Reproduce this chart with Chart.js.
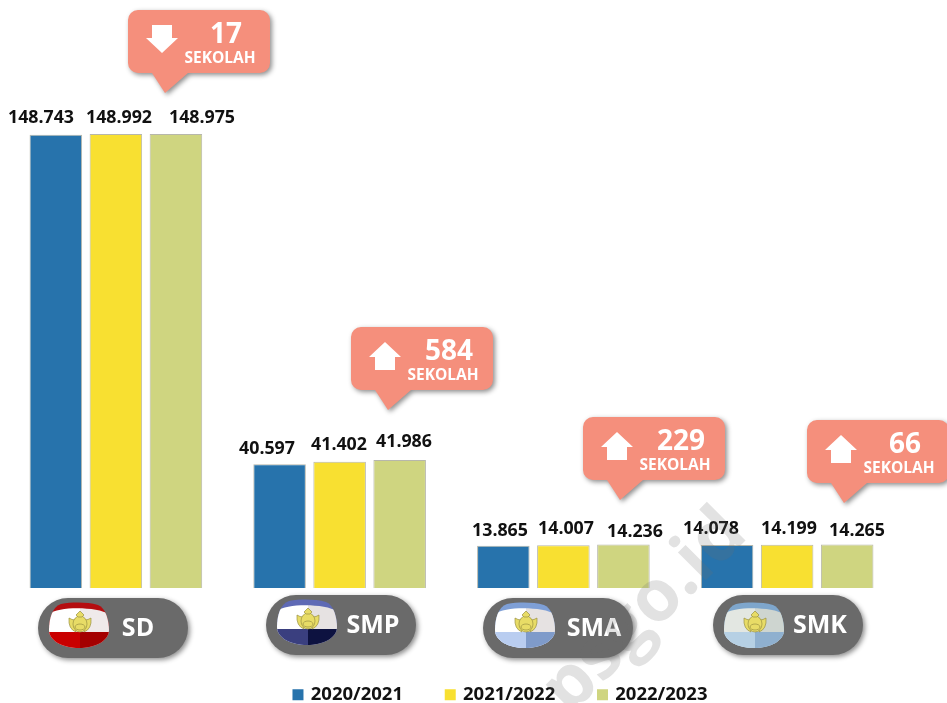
<!DOCTYPE html>
<html><head><meta charset="utf-8">
<style>html,body{margin:0;padding:0;background:#fff}#w{position:relative;width:947px;height:703px}</style>
<script src="https://cdn.jsdelivr.net/npm/chart.js@4"></script></head>
<body><div id="w"><canvas id="c" width="947" height="703"></canvas></div>
<script>
const categories = ['SD','SMP','SMA','SMK'];
const seriesNames = ['2020/2021','2021/2022','2022/2023'];
const values2020 = [148743,40597,13865,14078];
const values2021 = [148992,41402,14007,14199];
const values2022 = [148975,41986,14236,14265];
const changes = [17,584,229,66];
const changeDirections = ['down','up','up','up'];
const changeUnit = 'SEKOLAH';
const watermarkText = 'psgo.id';

const FONT = '"Open Sans", sans-serif';
const seriesColors = ['#2773ac','#f8e031','#cfd580'];

// Hand-placed annotation layout of the original graphic (pixels)
const labelPlacement = [
  [[41,118],[119,118],[202,118]],
  [[267,449],[339,445],[404,442]],
  [[500,531],[566,529],[635,532]],
  [[711,529],[789,529],[857,531]]
];
const calloutBoxes = [[128,10],[351,327],[583,417],[807,420]];
const pillBoxes = [[38,598],[266,595],[483,598],[713,595]];
const pillTextX = [100,107,111,107];
const badgeStyles = [
  {x:49,y:603,top:'#b50d10',body:['#ffffff','#efeaea'],l:'#c90000',r:'#a40000'},
  {x:277,y:600,top:'#5f6ab5',body:['#ffffff','#e6e2e2'],l:'#3a3f7f',r:'#0d1240'},
  {x:495,y:603,top:'#7e9fd6',body:['#ffffff','#e6e2e2'],l:'#b9cdf0',r:'#7f9bca'},
  {x:724,y:603,top:'#7ea6cc',body:['#e3e7e2','#ced5d0'],l:'#b6d0e4',r:'#8fb0cf'}
];

function fmt(v){return String(v).replace(/\B(?=(\d{3})+$)/g,'.');}
function shadow(ctx,on){
  ctx.shadowColor=on?'rgba(0,0,0,.45)':'transparent';
  ctx.shadowBlur=on?5:0;ctx.shadowOffsetX=on?2:0;ctx.shadowOffsetY=on?2:0;
}
function drawPill(ctx,x,y){
  ctx.save();shadow(ctx,true);ctx.fillStyle='#6a6a6a';
  ctx.beginPath();ctx.roundRect(x,y,150,60,30);ctx.fill();ctx.restore();
}
function badgePath(ctx,x,y){
  const h=45;
  ctx.beginPath();
  ctx.moveTo(x+12,y+1);
  ctx.bezierCurveTo(x+24,y-1,x+38,y-1,x+49,y+2);
  ctx.bezierCurveTo(x+57,y+5,x+60,y+18,x+60,y+27);
  ctx.bezierCurveTo(x+60,y+38,x+46,y+h,x+30,y+h);
  ctx.bezierCurveTo(x+14,y+h,x,y+38,x,y+27);
  ctx.bezierCurveTo(x,y+16,x+3,y+4,x+12,y+1);
  ctx.closePath();
}
function drawCrown(ctx,cx,cy){
  ctx.save();ctx.fillStyle='#e8dc66';ctx.strokeStyle='#9a9040';ctx.lineWidth=.7;
  [-1,1].forEach(sx=>{
    ctx.beginPath();
    ctx.moveTo(cx+sx*4,cy+10);
    ctx.quadraticCurveTo(cx+sx*12,cy+7,cx+sx*11,cy-4);
    ctx.quadraticCurveTo(cx+sx*8,cy-2,cx+sx*5,cy-2);
    ctx.closePath();ctx.fill();ctx.stroke();
  });
  ctx.beginPath();ctx.ellipse(cx,cy+2,7,8,0,0,Math.PI*2);ctx.fill();ctx.stroke();
  ctx.beginPath();ctx.moveTo(cx,cy-11);ctx.lineTo(cx+4,cy-7);ctx.lineTo(cx+2,cy-5);ctx.lineTo(cx-2,cy-5);ctx.lineTo(cx-4,cy-7);ctx.closePath();ctx.fill();ctx.stroke();
  ctx.beginPath();ctx.ellipse(cx,cy+5,5,3,0,0,Math.PI*2);ctx.stroke();
  ctx.restore();
}
function drawBadge(ctx,s){
  const {x,y}=s;
  ctx.save();badgePath(ctx,x,y);ctx.clip();
  ctx.fillStyle=s.top;ctx.fillRect(x-1,y-2,62,50);
  ctx.save();ctx.beginPath();ctx.moveTo(x-1,y+48);ctx.lineTo(x-1,y+12);ctx.bezierCurveTo(x+6,y+3,x+50,y+3,x+61,y+12);ctx.lineTo(x+61,y+48);ctx.closePath();ctx.clip();
  ctx.fillStyle=s.body[0];ctx.fillRect(x-1,y-2,32,50);
  ctx.fillStyle=s.body[1];ctx.fillRect(x+31,y-2,30,50);
  ctx.restore();
  ctx.fillStyle=s.l;ctx.fillRect(x-1,y+29,32,18);
  ctx.fillStyle=s.r;ctx.fillRect(x+31,y+29,30,18);
  ctx.restore();
  drawCrown(ctx,x+31,y+19);
}
function drawCallout(ctx,x,y,n,dir){
  const w=142,h=63,r=10;
  ctx.save();shadow(ctx,true);ctx.fillStyle='#f58f7c';
  ctx.beginPath();
  ctx.moveTo(x+r,y);ctx.lineTo(x+w-r,y);ctx.arcTo(x+w,y,x+w,y+r,r);
  ctx.lineTo(x+w,y+h-r);ctx.arcTo(x+w,y+h,x+w-r,y+h,r);
  ctx.lineTo(x+60,y+h);ctx.lineTo(x+37,y+h+20);ctx.lineTo(x+24,y+h);
  ctx.lineTo(x+r,y+h);ctx.arcTo(x,y+h,x,y+h-r,r);
  ctx.lineTo(x,y+r);ctx.arcTo(x,y,x+r,y,r);ctx.closePath();ctx.fill();ctx.restore();
  ctx.save();ctx.fillStyle='#fff';ctx.beginPath();
  const cx=x+34,t=y+15,b=y+43,hs=10,ss=15;
  if(dir==='up'){
    ctx.moveTo(cx,t);ctx.lineTo(cx+16,t+ss);ctx.lineTo(cx+hs,t+ss);ctx.lineTo(cx+hs,b);
    ctx.lineTo(cx-hs,b);ctx.lineTo(cx-hs,t+ss);ctx.lineTo(cx-16,t+ss);
  } else {
    ctx.moveTo(cx,b);ctx.lineTo(cx+16,b-ss);ctx.lineTo(cx+hs,b-ss);ctx.lineTo(cx+hs,t);
    ctx.lineTo(cx-hs,t);ctx.lineTo(cx-hs,b-ss);ctx.lineTo(cx-16,b-ss);
  }
  ctx.closePath();ctx.fill();
  ctx.textAlign='center';ctx.textBaseline='middle';
  ctx.font='bold 28px '+FONT;ctx.fillText(String(n),x+98,y+25);
  ctx.font='bold 15.5px '+FONT;ctx.fillText(changeUnit,x+92,y+49);
  ctx.restore();
}
const annotations={
  id:'annotations',
  afterLayout(chart){ const l=chart.legend; l.left+=49.5; l.right+=49.5; l.top+=11; l.bottom+=11; },
  beforeDraw(chart){
    const ctx=chart.ctx;
    ctx.save();
    categories.forEach((name,i)=>{
      const [x,y]=pillBoxes[i];
      drawPill(ctx,x,y);
      drawBadge(ctx,badgeStyles[i]);
      ctx.fillStyle='#fff';ctx.font='bold 25px '+FONT;ctx.textAlign='center';ctx.textBaseline='middle';
      ctx.fillText(name,x+pillTextX[i],y+31);
    });
    ctx.restore();
  },
  afterDatasetsDraw(chart){
    const ctx=chart.ctx;
    ctx.save();
    chart.data.datasets.forEach((ds,d)=>{
      ds.data.forEach((v,i)=>{
        const [x,y]=labelPlacement[i][d];
        ctx.fillStyle='#111';ctx.font='bold 17.8px '+FONT;ctx.textAlign='center';ctx.textBaseline='middle';
        ctx.fillText(fmt(v),x,y);
      });
    });
    changes.forEach((n,i)=>drawCallout(ctx,calloutBoxes[i][0],calloutBoxes[i][1],n,changeDirections[i]));
    ctx.translate(735,522);ctx.rotate(-Math.PI/4);
    ctx.fillStyle='rgba(110,110,110,.2)';ctx.font='bold 72px '+FONT;ctx.textAlign='right';ctx.textBaseline='middle';
    ctx.fillText(watermarkText,0,0);
    ctx.restore();
  }
};
new Chart(document.getElementById('c'),{
  type:'bar',
  data:{labels:categories,datasets:[values2020,values2021,values2022].map((data,i)=>({
    label:seriesNames[i],data,backgroundColor:seriesColors[i],
    borderColor:'rgba(165,165,150,.8)',borderWidth:1,
    barPercentage:.875,categoryPercentage:.805
  }))},
  options:{
    responsive:false,animation:false,
    layout:{padding:{left:4,right:48,top:134,bottom:0}},
    plugins:{
      tooltip:{enabled:false},
      legend:{position:'bottom',labels:{
        boxWidth:7,boxHeight:7,padding:43.75,color:'#111',font:{family:'"Open Sans", sans-serif',weight:'bold',size:18.5},
        generateLabels(chart){
          return chart.data.datasets.map((ds,i)=>({text:ds.label,fillStyle:ds.backgroundColor,strokeStyle:ds.backgroundColor,lineWidth:4,fontColor:'#111',datasetIndex:i,hidden:false}));
        }
      }}
    },
    scales:{
      x:{grid:{display:false},border:{display:false},ticks:{display:false},
         afterFit(s){s.height=42.75;}},
      y:{display:false,min:0,max:149000}
    }
  },
  plugins:[annotations]
});
</script></body></html>
